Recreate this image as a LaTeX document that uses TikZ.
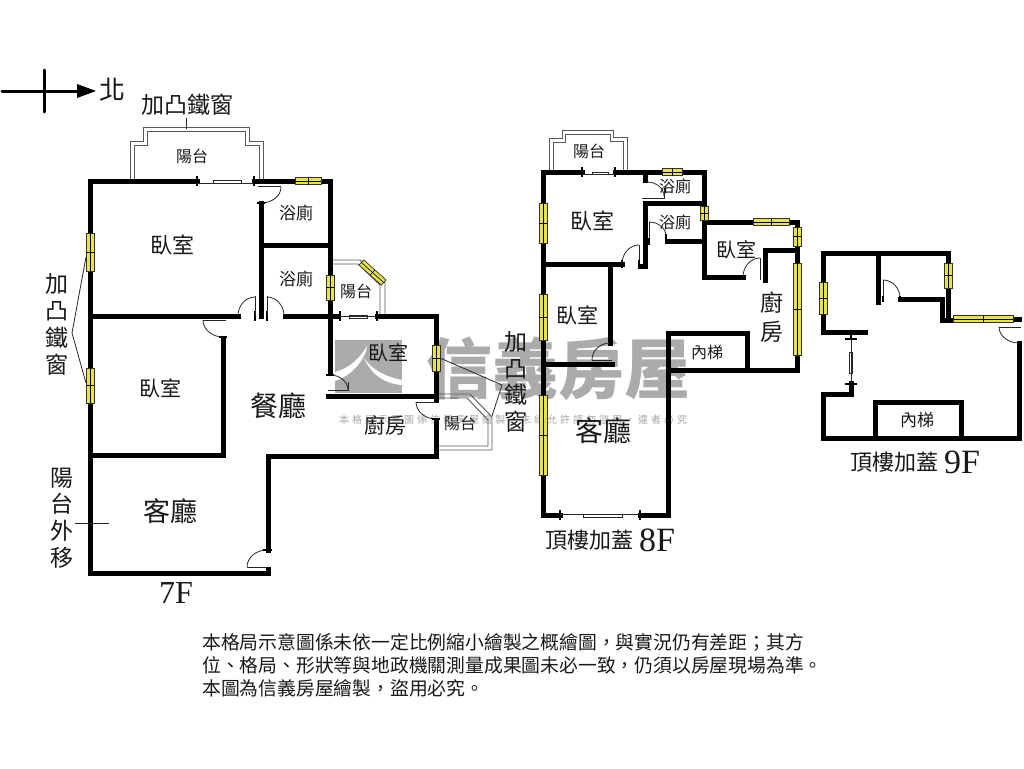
\documentclass[tikz,border=0pt]{standalone}
\usepackage{fontspec}
\usetikzlibrary{calc}
\newfontfamily\cjk{Noto Sans CJK TC}
\newfontfamily\cjkmark[LetterSpace=30]{Noto Sans CJK TC}
\setmainfont{Liberation Serif}
\definecolor{winyellow}{HTML}{E6E24A}
\tikzset{
  wall/.style={line width=5pt, line cap=rect, line join=miter},
  thinw/.style={line width=0.8pt, black!85},
  rail/.style={line width=0.9pt, black!65},
  post/.style={line width=2.4pt},
  glass/.style={draw=black!80, fill=winyellow, line width=0.7pt},
  lab/.style={inner sep=0pt, text=black!90, font=\cjk\fontsize{#1}{#1}\selectfont},
  stack/.style={inner sep=0pt, align=center, text=black!90, font=\cjk\fontsize{23}{#1}\selectfont},
  floor/.style={inner sep=0pt, text=black!90, font=\fontsize{#1}{#1}\selectfont},
}
% window on a vertical wall: x, top, bottom
\newcommand\winv[3]{%
  \draw[glass] (#1-4,#2) rectangle (#1+4,#3);
  \draw[line width=0.6pt] (#1-4,#2/2+#3/2) -- (#1+4,#2/2+#3/2);
  \draw[line width=0.6pt] (#1,#2) -- (#1,#3);}
% window on a horizontal wall: y, left, right
\newcommand\winh[3]{%
  \draw[glass] (#2,#1-3.5) rectangle (#3,#1+3.5);
  \draw[line width=0.6pt] (#2/2+#3/2,#1-3.5) -- (#2/2+#3/2,#1+3.5);
  \draw[line width=0.6pt] (#2,#1) -- (#3,#1);}
% door swing: start, corner, end
\newcommand\swing[3]{%
  \draw[thinw] (#1) .. controls ($(#1)!0.55!(#2)$) and ($(#3)!0.55!(#2)$) .. (#3);}
\begin{document}
\begin{tikzpicture}[x=1pt, y=-1pt]
      \useasboundingbox[fill=white] (0,0) rectangle (1024,768);
      % watermark
      \fill[black!33] (335,340) rectangle (402,393);
      \fill[white] (335,372) .. controls (350,368) and (360,358) .. (367,346)
        .. controls (366,358) and (352,376) .. (335,381) -- cycle;
      \fill[white] (364,358) .. controls (372,370) and (386,377) .. (402,380) -- (402,385)
        .. controls (386,384) and (372,376) .. (364,358) -- cycle;
      \node[inner sep=0pt, text=black!33, font=\cjk\bfseries\fontsize{66}{66}\selectfont] (markbig) at (558,369) {信義房屋};
      \node[inner sep=0pt, text=black!35, font=\cjkmark\fontsize{10}{10}\selectfont] (marksmall) at (513,420) {本格局示意圖係信義房屋繪製，未經允許請勿盜用，違者必究};
      %
      % north arrow
      \coordinate (northtail) at (2,91);
      \coordinate (northtip) at (96,91);
      \draw[line width=3pt, line cap=round] (northtail) -- (80,91);
      \draw[line width=3pt, line cap=round] (44,70) -- (44,112);
      \fill (77,84) -- (northtip) -- (77,98) -- cycle;
      \node[lab=26] (northlab) at (112,90) {北};
      %
      % 7F balconies
      \draw[rail] (130,180) -- (130,141) -- (143,141) -- (143,127) -- (249,127) -- (249,141) -- (263,141) -- (263,180);
      \draw[rail] (134,180) -- (134,145) -- (147,145) -- (147,131) -- (245,131) -- (245,145) -- (259,145) -- (259,180);
      \draw[rail] (330,260) -- (360,260) -- (385,283) -- (385,315);
      \draw[rail] (330,264) -- (358,264) -- (380,285) -- (380,315);
      \draw[rail] (436,394) -- (470,394) -- (492,417) -- (492,450) -- (436,450);
      \draw[rail] (436,398) -- (467,398) -- (488,420) -- (488,446) -- (436,446);
      %
      % 7F walls
      \draw[wall] (197,181) -- (90,181) -- (90,573) -- (268,573) -- (268,569);
      \draw[wall] (254,181) -- (330,181) -- (330,373);
      \draw[wall] (90,316) -- (238,316);
      \draw[wall] (261,203) -- (261,316);
      \draw[wall] (261,245) -- (330,245);
      \draw[wall] (285,316) -- (338,316);
      \draw[wall] (377,316) -- (436,316) -- (436,400);
      \draw[wall] (328,396) -- (436,396);
      \draw[wall] (436,420) -- (436,456) -- (268,456) -- (268,550);
      \draw[wall] (223,338) -- (223,455) -- (90,455);
      \draw[post] (255,311) -- (255,321);
      \draw[post] (267,311) -- (267,321);
      %
      % 7F sliding doors
      \draw[post] (197,176) -- (197,186);
      \draw[post] (254,176) -- (254,186);
      \draw[thinw] (197,183) -- (254,183);
      \draw[thinw] (213,180) rectangle (241,183);
      \draw[post] (340,311) -- (340,321);
      \draw[post] (377,311) -- (377,321);
      \draw[thinw] (340,316) -- (377,316);
      \draw[thinw] (349,315) rectangle (367,318);
      %
      % 7F door swings
      \draw[thinw] (258,186) -- (281,186);
      \swing{261,203}{281,203}{281,187}
      \draw[post] (257,203) -- (265,203);
      \draw[thinw] (255,296) -- (255,316);
      \swing{238,316}{238,297}{255,297}
      \draw[thinw] (267,296) -- (267,316);
      \swing{284,316}{284,297}{267,297}
      \draw[thinw] (203,320) -- (226,320);
      \swing{203,320}{203,337}{223,337}
      \draw[post] (219,337) -- (227,337);
      \draw[thinw] (328,390) -- (348,390) -- (348,382);
      \swing{330,375}{348,375}{348,390}
      \draw[post] (326,375) -- (334,375);
      \draw[thinw] (416,402) -- (436,402);
      \swing{416,402}{416,419}{436,419}
      \draw[post] (432,419) -- (440,419);
      \draw[thinw] (247,567) -- (267,567);
      \swing{247,567}{247,550}{267,550}
      \draw[post] (263,550) -- (272,550);
      %
      % 7F windows
      \winh{181}{295}{321}
      \winv{90}{233}{271}
      \winv{90}{368}{403}
      \winv{330}{275}{300}
      \winv{436}{345}{371}
      \begin{scope}[shift={(372.5,272.5)}, rotate=-42]
        \draw[glass] (-15,-3.5) rectangle (15,3.5);
        \draw[line width=0.6pt] (-15,0) -- (15,0);
        \draw[line width=0.6pt] (0,-3.5) -- (0,3.5);
      \end{scope}
      %
      % 7F labels
      \node[lab=16] (balcA) at (192,156) {陽台};
      \node[lab=22] (bedA) at (172,245) {臥室};
      \node[lab=17] (bathA) at (296,213) {浴廁};
      \node[lab=17] (bathB) at (296,279) {浴廁};
      \node[lab=16] (balcB) at (356,291) {陽台};
      \node[lab=20] (bedB) at (388,353) {臥室};
      \node[lab=21] (bedC) at (160,388) {臥室};
      \node[lab=28] (dining) at (278,406) {餐廳};
      \node[lab=21] (kitchenA) at (385,425) {廚房};
      \node[lab=16] (balcC) at (460,423) {陽台};
      \node[lab=27] (livingA) at (170,511) {客廳};
      \node[floor=32] (floorA) at (176,593) {7F};
      %
      % 7F window notes
      \node[lab=23] (winnotetop) at (187,105) {加凸鐵窗};
      \coordinate (balcroof) at (186,129);
      \draw[thinw] (186,118) -- (balcroof);
      \node[stack=27] (winnoteleft) at (57,324.5) {加\\凸\\鐵\\窗};
      \coordinate (winleftA) at (86,257);
      \coordinate (winleftB) at (72,333);
      \coordinate (winleftC) at (86,383);
      \draw[thinw] (winleftA) -- (winleftB) -- (winleftC);
      \node[stack=26.7] (winnoteright) at (516,382) {加\\凸\\鐵\\窗};
      \coordinate (winrightA) at (440,358);
      \coordinate (winrightB) at (502,385);
      \coordinate (winrightC) at (492,416);
      \draw[thinw] (winrightA) -- (winrightB) -- (winrightC);
      \node[stack=26.7] (movenote) at (62,518) {陽\\台\\外\\移};
      \coordinate (movetick) at (109,523);
      \draw[thinw] (75,523) -- (movetick);
      %
      % 8F balcony
      \draw[rail] (549,170) -- (549,138) -- (562,138) -- (562,130) -- (613,130) -- (613,137) -- (627,137) -- (627,170);
      \draw[rail] (553,170) -- (553,142) -- (565,142) -- (565,134) -- (610,134) -- (610,141) -- (623,141) -- (623,170);
      %
      % 8F walls
      \draw[wall] (582,172) -- (543,172) -- (543,515) -- (560,515);
      \draw[wall] (615,172) -- (704,172) -- (704,277) -- (743,277);
      \draw[wall] (645,203) -- (704,203);
      \draw[wall] (645,203) -- (645,266) -- (640,266);
      \draw[wall] (645,172) -- (645,180);
      \draw[wall] (667,241) -- (704,241);
      \draw[wall] (704,222) -- (797,222) -- (797,370) -- (668,370);
      \draw[wall] (797,250) -- (765,250) -- (765,280);
      \draw[wall] (543,264) -- (622,264);
      \draw[wall] (610,264) -- (610,343);
      \draw[wall] (543,364) -- (612,364);
      \draw[wall] (640,515) -- (668,515) -- (668,333) -- (747,333) -- (747,370);
      %
      % 8F sliding doors
      \draw[post] (582,167) -- (582,177);
      \draw[post] (615,167) -- (615,177);
      \draw[thinw] (582,174) -- (615,174);
      \draw[thinw] (592,172) rectangle (608,174);
      \draw[post] (560,510) -- (560,520);
      \draw[post] (640,510) -- (640,520);
      \draw[thinw] (560,514) -- (640,514);
      \draw[thinw] (583,514) rectangle (622,517);
      %
      % 8F door swings
      \draw[thinw] (642,198) -- (664,198) -- (664,188);
      \swing{647,182}{664,182}{664,196}
      \draw[thinw] (649,222) -- (649,245);
      \swing{649,222}{666,222}{666,236}
      \draw[thinw] (639,245) -- (639,266);
      \swing{622,264}{622,245}{639,245}
      \draw[thinw] (760,258) -- (760,280);
      \swing{743,277}{743,258}{760,258}
      \draw[thinw] (592,360) -- (612,360);
      \swing{592,360}{592,343}{610,343}
      \draw[post] (649,238) -- (649,245);
      \draw[post] (666,234) -- (666,244);
      \draw[post] (639,260) -- (639,268);
      \draw[post] (622,260) -- (622,268);
      %
      % 8F windows
      \winh{172}{662}{682}
      \winh{222}{753}{789}
      \winv{704}{206}{220}
      \winv{797}{227}{246}
      \winv{797}{263}{355}
      \winv{543}{203}{243}
      \winv{543}{294}{340}
      \winv{543}{395}{475}
      %
      % 8F labels
      \node[lab=16] (balcD) at (589,151) {陽台};
      \node[lab=22] (bedD) at (592,221) {臥室};
      \node[lab=16] (bathC) at (675,186) {浴廁};
      \node[lab=16] (bathD) at (675,222) {浴廁};
      \node[lab=20] (bedE) at (736,250) {臥室};
      \node[lab=21] (bedF) at (577,315) {臥室};
      \node[lab=23] (kitchenB) at (772,303) {廚};
      \node[lab=23] (kitchenC) at (772,332) {房};
      \node[lab=16] (stairA) at (707,352) {內梯};
      \node[lab=28] (livingB) at (603,431) {客廳};
      \node[lab=22] (roofA) at (589,540) {頂樓加蓋};
      \node[floor=34] (floorB) at (657,540) {8F};
      %
      % 9F walls
      \draw[wall] (865,332) -- (823,332) -- (823,253) -- (948,253) -- (948,320) -- (942,320) -- (942,299) -- (900,299);
      \draw[wall] (878,253) -- (878,302);
      \draw[wall] (942,320) -- (953,320);
      \draw[wall] (1013,319) -- (1019,319);
      \draw[wall] (851,383) -- (851,394) -- (823,394) -- (823,438) -- (1019,438) -- (1019,343);
      \draw[wall] (875,438) -- (875,402) -- (961,402) -- (961,438);
      %
      % 9F sliding door
      \draw[post] (845,339) -- (857,339);
      \draw[post] (851,334) -- (851,340);
      \draw[post] (845,384) -- (857,384);
      \draw[thinw] (851,340) -- (851,383);
      \draw[thinw] (849,352) rectangle (852,373);
      %
      % 9F door swings
      \draw[thinw] (883,280) -- (883,302);
      \swing{883,280}{900,280}{900,298}
      \draw[post] (883,296) -- (883,302);
      \draw[post] (900,296) -- (900,302);
      \draw[thinw] (999,327) -- (1021,327);
      \swing{999,327}{999,343}{1019,343}
      %
      % 9F windows
      \winv{823}{282}{314}
      \winv{948}{263}{288}
      \winh{319}{953}{1013}
      %
      % 9F labels
      \node[lab=17] (stairB) at (917,420) {內梯};
      \node[lab=22] (roofB) at (894,462) {頂樓加蓋};
      \node[floor=34] (floorC) at (962,462) {9F};
      %
      % disclaimer
      \node[lab=18.8, anchor=west] (noteA) at (202,642) {本格局示意圖係未依一定比例縮小繪製之概繪圖，與實況仍有差距；其方};
      \node[lab=18.8, anchor=west] (noteB) at (202,665) {位、格局、形狀等與地政機關測量成果圖未必一致，仍須以房屋現場為準。};
      \node[lab=18.8, anchor=west] (noteC) at (202,688) {本圖為信義房屋繪製，盜用必究。};
      %
    \end{tikzpicture}
\end{document}
